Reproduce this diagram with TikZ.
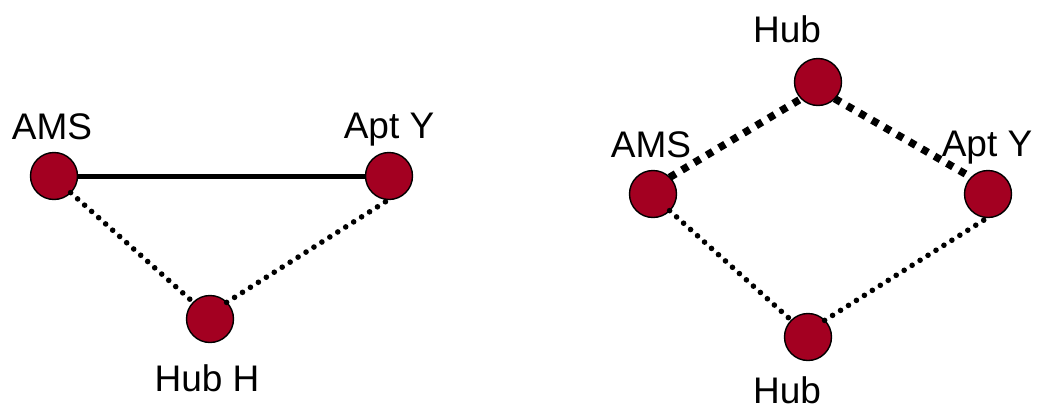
\documentclass[tikz,border=0pt]{standalone}
\usepackage{fontspec}
\setmainfont{Liberation Sans}
\definecolor{hubred}{RGB}{163,0,33}
\begin{document}
\begin{tikzpicture}[x=1pt,y=-1pt,
  site/.style={circle,draw=black,line width=1.4pt,fill=hubred,minimum size=47pt,inner sep=0pt,outer sep=0pt},
  tag/.style={anchor=base,inner sep=0pt,font=\fontsize{37}{40}\selectfont},
  direct/.style={line width=5pt},
  viahub/.style={line width=5.6pt,line cap=round,dash pattern=on 0pt off 9.4pt},
  hubleg/.style={line width=7.5pt,dash pattern=on 7pt off 7.4pt}]
\useasboundingbox (0,0) rectangle (1037,410);

% direct route with a detour through one hub
\node[site] (ams1) at (54,176) {};
\node[site] (apt1) at (389,176) {};
\node[site] (hub1) at (210,319) {};
\node[tag] (ams1l) at (52,139) {AMS};
\node[tag] (apt1l) at (389,138) {Apt Y};
\node[tag] (hub1l) at (207,391) {Hub H};
\draw[direct] (ams1.east) -- (apt1.west);
\draw[viahub] (ams1.south east) -- (hub1.north west);
\draw[viahub] (hub1.north east) -- (apt1.south);

% two routes through two hubs
\node[site] (ams2) at (653,194) {};
\node[site] (apt2) at (988,194) {};
\node[site] (hubt) at (818,82) {};
\node[site] (hubb) at (808,337) {};
\node[tag] (hubtl) at (787,42) {Hub};
\node[tag] (ams2l) at (651,157) {AMS};
\node[tag] (apt2l) at (987,156) {Apt Y};
\node[tag] (hubbl) at (787,403) {Hub};
\draw[hubleg] (ams2.north east) -- (hubt.south west);
\draw[hubleg] (hubt.south east) -- (apt2.north west);
\draw[viahub] (ams2.south east) -- (hubb.north west);
\draw[viahub] (hubb.north east) -- (apt2.south);
\end{tikzpicture}
\end{document}
